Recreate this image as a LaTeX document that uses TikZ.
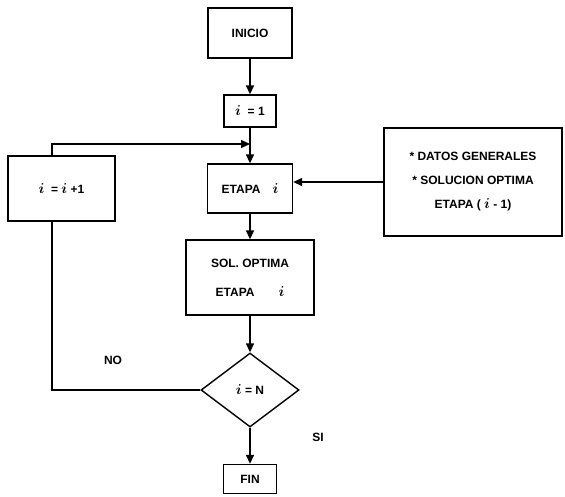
\documentclass[tikz,border=0pt]{standalone}
\usepackage{amsmath}
\usepackage{fontspec}
\setmainfont{Liberation Sans}
\usetikzlibrary{arrows.meta,shapes.geometric}

\newcommand{\stg}{{\Large$\boldsymbol{i}$}}

\tikzset{
  block/.style={draw, line width=1.4pt, inner sep=2pt, align=center},
  decision/.style={draw, diamond, line width=1.4pt, inner sep=0pt, aspect=1.32},
  flow/.style={line width=1.4pt, -{Triangle[length=9pt,width=8pt]}},
  link/.style={line width=1.4pt},
  tag/.style={inner sep=1pt}
}

\begin{document}
\begin{tikzpicture}[x=1pt, y=-1pt, font=\bfseries\fontsize{12}{14}\selectfont]
  \useasboundingbox (0,0) rectangle (565,496);

  \node[block, minimum width=84pt, minimum height=50pt] (start) at (250,33) {INICIO};
  \node[block, minimum width=52pt, minimum height=32pt] (init) at (250,111) {\stg\ \ = 1};
  \node[block, minimum width=85pt, minimum height=49pt] (stage) at (250,188.5) {ETAPA\quad \stg};
  \node[block, minimum width=128pt, minimum height=75pt] (best) at (250,277.5)
    {SOL. OPTIMA\\[15pt] ETAPA\qquad \stg};
  \node[decision, minimum width=98pt, minimum height=74pt] (test) at (250,390) {\stg\ = N};
  \node[block, minimum width=53pt, minimum height=29pt] (stop) at (250,479) {FIN};
  \node[block, minimum width=107pt, minimum height=65pt] (incr) at (61.5,188.5) {\stg\ \ = \stg\ +1};
  \node[block, minimum width=178pt, minimum height=108pt] (data) at (473,182)
    {* DATOS GENERALES\\[10pt] * SOLUCION OPTIMA\\[10pt] ETAPA ( \stg\ - 1)};

  \node[tag] (no) at (113,360) {NO};
  \node[tag] (yes) at (318,437) {SI};

  \coordinate (merge) at (250,144);
  \coordinate (back) at ([xshift=-9.5pt]incr.north);

  \draw[flow] (start) -- (init);
  \draw[flow] (init) -- (stage);
  \draw[flow] (stage) -- (best);
  \draw[flow] (best) -- (test);
  \draw[flow] (test) -- (stop);
  \draw[flow] (data.west) -- (data.west -| stage.east);
  \draw[link] (test.west) -| ([xshift=-9.5pt]incr.south);
  \draw[flow] (back) |- (merge);
\end{tikzpicture}
\end{document}
